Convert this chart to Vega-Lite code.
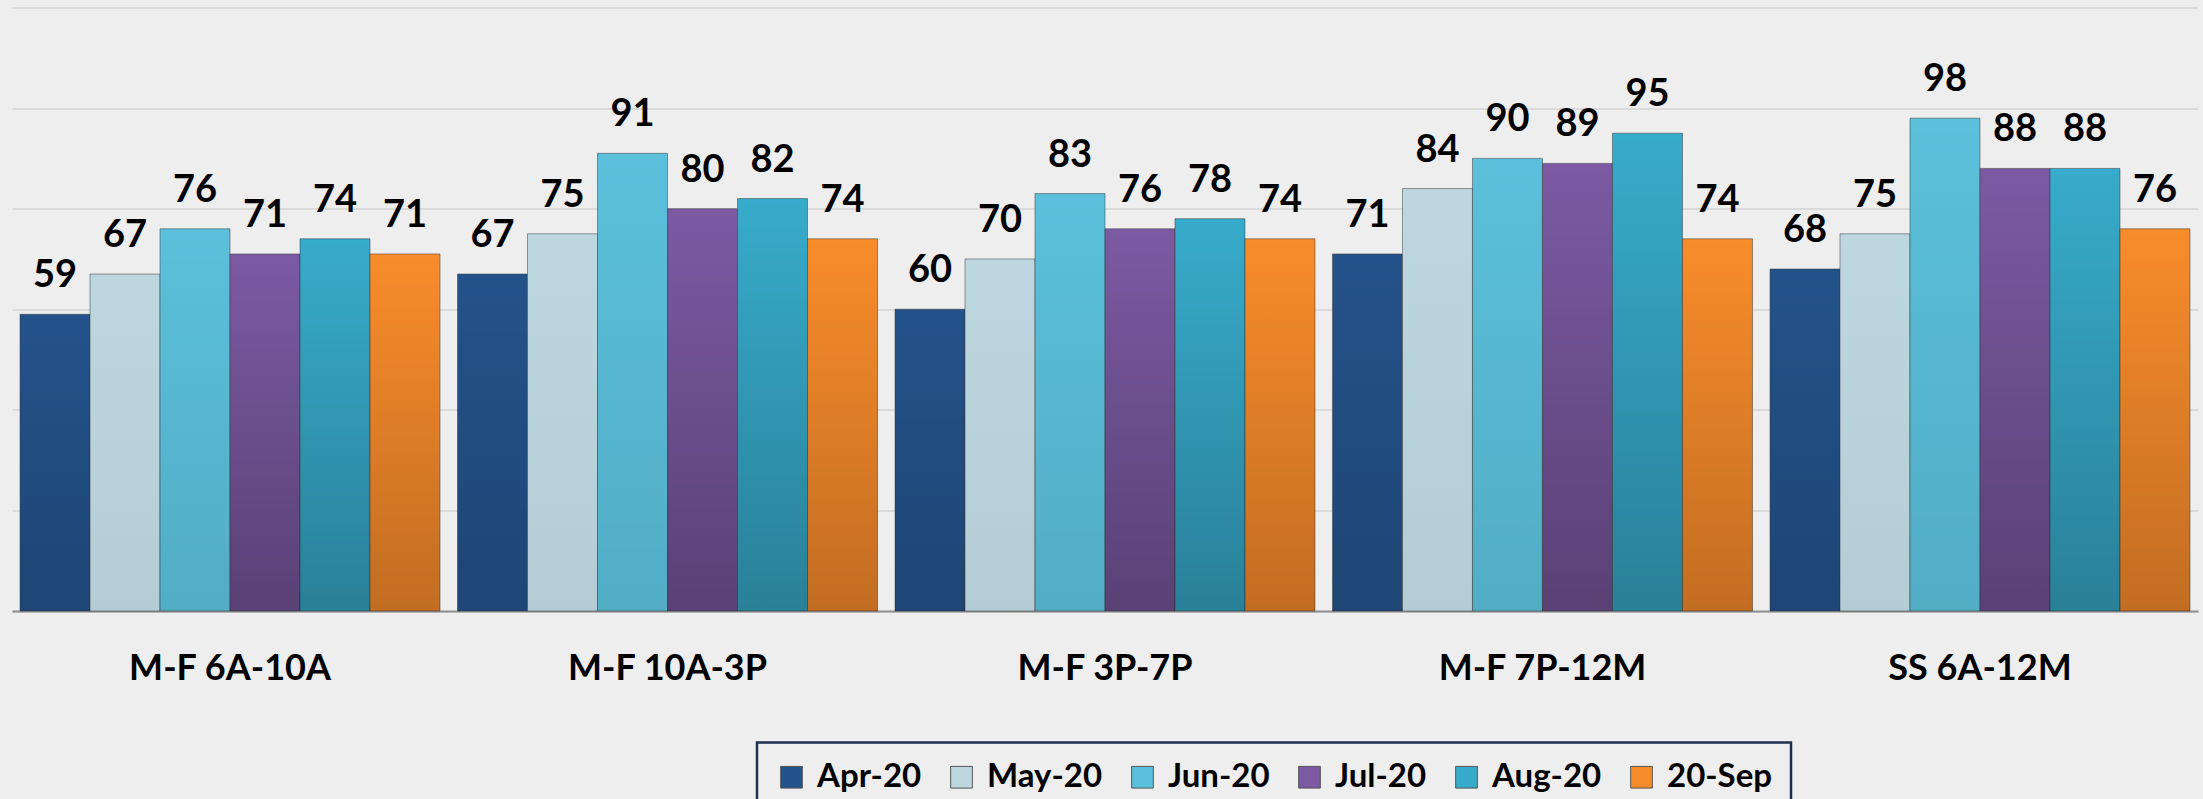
{
  "$schema": "https://vega.github.io/schema/vega-lite/v6.json",
  "autosize": {"type": "none"},
  "padding": {"left": 12, "top": 7.5, "right": 5, "bottom": 188},
  "width": 2186,
  "height": 603.5,
  "background": "#eeeeee",
  "config": {
    "view": {"stroke": null},
    "font": "Lato",
    "legend": {"strokeColor": "#1d2f4d", "strokeWidth": 2.5, "padding": 18}
  },
  "data": {
    "values": [
      {"slot": "M-F 6A-10A", "month": "Apr-20", "value": 59},
      {"slot": "M-F 6A-10A", "month": "May-20", "value": 67},
      {"slot": "M-F 6A-10A", "month": "Jun-20", "value": 76},
      {"slot": "M-F 6A-10A", "month": "Jul-20", "value": 71},
      {"slot": "M-F 6A-10A", "month": "Aug-20", "value": 74},
      {"slot": "M-F 6A-10A", "month": "20-Sep", "value": 71},
      {"slot": "M-F 10A-3P", "month": "Apr-20", "value": 67},
      {"slot": "M-F 10A-3P", "month": "May-20", "value": 75},
      {"slot": "M-F 10A-3P", "month": "Jun-20", "value": 91},
      {"slot": "M-F 10A-3P", "month": "Jul-20", "value": 80},
      {"slot": "M-F 10A-3P", "month": "Aug-20", "value": 82},
      {"slot": "M-F 10A-3P", "month": "20-Sep", "value": 74},
      {"slot": "M-F 3P-7P", "month": "Apr-20", "value": 60},
      {"slot": "M-F 3P-7P", "month": "May-20", "value": 70},
      {"slot": "M-F 3P-7P", "month": "Jun-20", "value": 83},
      {"slot": "M-F 3P-7P", "month": "Jul-20", "value": 76},
      {"slot": "M-F 3P-7P", "month": "Aug-20", "value": 78},
      {"slot": "M-F 3P-7P", "month": "20-Sep", "value": 74},
      {"slot": "M-F 7P-12M", "month": "Apr-20", "value": 71},
      {"slot": "M-F 7P-12M", "month": "May-20", "value": 84},
      {"slot": "M-F 7P-12M", "month": "Jun-20", "value": 90},
      {"slot": "M-F 7P-12M", "month": "Jul-20", "value": 89},
      {"slot": "M-F 7P-12M", "month": "Aug-20", "value": 95},
      {"slot": "M-F 7P-12M", "month": "20-Sep", "value": 74},
      {"slot": "SS 6A-12M", "month": "Apr-20", "value": 68},
      {"slot": "SS 6A-12M", "month": "May-20", "value": 75},
      {"slot": "SS 6A-12M", "month": "Jun-20", "value": 98},
      {"slot": "SS 6A-12M", "month": "Jul-20", "value": 88},
      {"slot": "SS 6A-12M", "month": "Aug-20", "value": 88},
      {"slot": "SS 6A-12M", "month": "20-Sep", "value": 76}
    ]
  },
  "encoding": {
    "x": {
      "field": "slot",
      "type": "nominal",
      "sort": ["M-F 6A-10A", "M-F 10A-3P", "M-F 3P-7P", "M-F 7P-12M", "SS 6A-12M"],
      "scale": {"paddingInner": 0.04, "paddingOuter": 0.0183},
      "axis": {
        "title": null,
        "labelAngle": 0,
        "labelFont": "Lato",
        "labelFontWeight": "bold",
        "labelFontSize": 36,
        "labelColor": "#000000",
        "labelBaseline": "alphabetic",
        "labelPadding": 68,
        "labelLimit": 500,
        "ticks": false,
        "tickSize": 0,
        "domainColor": "#8f8f8f",
        "domainWidth": 2,
        "grid": false
      }
    },
    "xOffset": {
      "field": "month",
      "type": "nominal",
      "sort": ["Apr-20", "May-20", "Jun-20", "Jul-20", "Aug-20", "20-Sep"],
      "scale": {"paddingInner": 0, "paddingOuter": 0}
    },
    "y": {
      "field": "value",
      "type": "quantitative",
      "scale": {"domain": [0, 120]},
      "axis": {
        "title": null,
        "values": [0, 20, 40, 60, 80, 100, 120],
        "labels": false,
        "ticks": false,
        "domain": false,
        "gridColor": "#dadada",
        "gridWidth": 2
      }
    }
  },
  "layer": [
    {
      "mark": {"type": "bar", "stroke": "#3a3a3a", "strokeOpacity": 0.5, "strokeWidth": 1},
      "encoding": {
        "color": {
          "field": "month",
          "type": "nominal",
          "sort": ["Apr-20", "May-20", "Jun-20", "Jul-20", "Aug-20", "20-Sep"],
          "scale": {
            "domain": ["Apr-20", "May-20", "Jun-20", "Jul-20", "Aug-20", "20-Sep"],
            "range": ["#23528a", "#bdd7e0", "#5bc0db", "#7b5aa3", "#37abcb", "#f88c2b"]
          },
          "legend": {
            "title": null,
            "orient": "none",
            "direction": "horizontal",
            "legendX": 745,
            "legendY": 735,
            "symbolType": "square",
            "symbolSize": 470,
            "symbolOpacity": 1,
            "symbolStrokeColor": "#555555",
            "symbolStrokeWidth": 1,
            "labelFont": "Lato",
            "labelFontWeight": "bold",
            "labelFontSize": 33,
            "labelColor": "#000000",
            "labelOffset": 9,
            "columnPadding": 23,
            "labelLimit": 300
          }
        }
      }
    },
    {
      "mark": {
        "type": "bar",
        "color": {
          "gradient": "linear",
          "x1": 0, "y1": 0, "x2": 0, "y2": 1,
          "stops": [
            {"offset": 0, "color": "rgba(0,0,0,0)"},
            {"offset": 1, "color": "rgba(0,0,0,1)"}
          ]
        }
      },
      "encoding": {
        "opacity": {
          "condition": [
            {"test": "datum.month === 'Apr-20'", "value": 0.15},
            {"test": "datum.month === 'May-20'", "value": 0.05},
            {"test": "datum.month === 'Jun-20'", "value": 0.1},
            {"test": "datum.month === 'Jul-20'", "value": 0.28},
            {"test": "datum.month === 'Aug-20'", "value": 0.25}
          ],
          "value": 0.22
        }
      }
    },
    {
      "mark": {"type": "text", "baseline": "alphabetic", "dy": -27, "font": "Lato", "fontWeight": "bold", "fontSize": 38, "color": "#000000"},
      "encoding": {"text": {"field": "value", "type": "quantitative"}}
    }
  ]
}
